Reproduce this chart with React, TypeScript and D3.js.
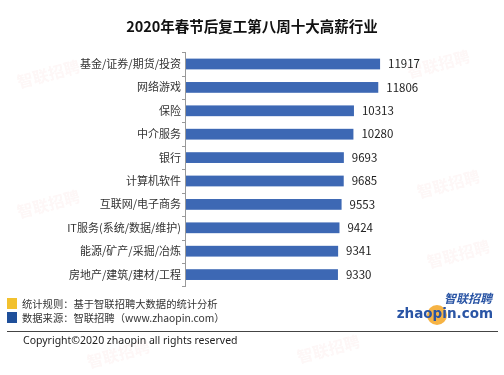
import React from "react";
import * as d3 from "d3";

// top-10 industries, avg monthly salary (yuan)
const industries = [
  "基金/证券/期货/投资",
  "网络游戏",
  "保险",
  "中介服务",
  "银行",
  "计算机软件",
  "互联网/电子商务",
  "IT服务(系统/数据/维护)",
  "能源/矿产/采掘/冶炼",
  "房地产/建筑/建材/工程",
];
const salaries = [11917, 11806, 10313, 10280, 9693, 9685, 9553, 9424, 9341, 9330];

const legendItems = [
  { label: "统计规则：基于智联招聘大数据的统计分析", color: "#f2c12e" },
  { label: "数据来源：智联招聘（www.zhaopin.com）", color: "#1f4f9a" },
];

const W = 504, H = 375;
const CJK = "'Microsoft YaHei', 'Noto Sans CJK SC', sans-serif";
const barColor = "#3d68b4";

export default function App() {
  const y = d3.scaleBand<string>()
    .domain(industries)
    .range([52.3, 286.3])
    .paddingInner(0.54)
    .paddingOuter(0.27);
  const x = d3.scaleLinear().domain([0, 14000]).range([186, 414]);

  const rows = industries.map((name, i) => ({ name, value: salaries[i] }));
  // band boundaries for the small tick marks on the axis
  const tickYs = d3.range(industries.length + 1).map(i => 52.3 + i * y.step());

  // faint watermark positions (kept inside the frame)
  const marks: [number, number][] = [[50, 80], [50, 210], [440, 70], [450, 190], [460, 260], [120, 360], [330, 355]];

  return (
    <svg width={W} height={H} style={{ position: "absolute", left: 0, top: 0, background: "#fff" }}>
      <rect width={W} height={H} fill="#fff" />
      <g fontFamily={CJK} fontSize={16} fontWeight="bold" fill="#d9534f" opacity={0.05}>
        {marks.map(([mx, my], i) => (
          <text key={i} x={mx} y={my} transform={`rotate(-15 ${mx} ${my})`} textAnchor="middle">智联招聘</text>
        ))}
      </g>

      <text x={252} y={32} textAnchor="middle" fontFamily={CJK} fontSize={14.5} fontWeight="bold" fill="#111">
        2020年春节后复工第八周十大高薪行业
      </text>

      <g>
        {rows.map(d => (
          <rect key={d.name} x={x(0)} y={y(d.name)!} width={x(d.value) - x(0)} height={y.bandwidth()} fill={barColor} />
        ))}
      </g>

      <g fontFamily={CJK} fontSize={11} fill="#333">
        {rows.map(d => (
          <text key={d.name} x={181} y={y(d.name)! + y.bandwidth() / 2} dy="0.36em" textAnchor="end">{d.name}</text>
        ))}
        {rows.map(d => (
          <text key={"v" + d.name} x={x(d.value) + 8} y={y(d.name)! + y.bandwidth() / 2} dy="0.36em" fontSize={11.5} fill="#222">{d.value}</text>
        ))}
      </g>

      <g stroke="#999" strokeWidth={1}>
        <line x1={185.5} x2={185.5} y1={52} y2={287} />
        {tickYs.map((t, i) => (
          <line key={i} x1={182} x2={185.5} y1={Math.round(t) + 0.5} y2={Math.round(t) + 0.5} />
        ))}
      </g>

      <g fontFamily={CJK} fontSize={10.3} fill="#333">
        {legendItems.map((it, i) => (
          <g key={it.label}>
            <rect x={7} y={298 + i * 14} width={10} height={11} fill={it.color} />
            <text x={22} y={304 + i * 14} dy="0.36em">{it.label}</text>
          </g>
        ))}
      </g>

      {/* logo */}
      <g>
        <circle cx={437} cy={315} r={10} fill="#f5a623" opacity={0.85} />
        <text x={492} y={303} textAnchor="end" fontFamily={CJK} fontSize={12} fontStyle="italic" fontWeight="bold" fill="#2a55a5">智联招聘</text>
        <text x={493} y={318} textAnchor="end" fontFamily="'DejaVu Sans', sans-serif" fontSize={13.5} fontWeight="bold" fill="#2a55a5">zhaopin.com</text>
      </g>

      <line x1={7} x2={498} y1={331.5} y2={331.5} stroke="#444" strokeWidth={1} />
      <text x={23} y={340} dy="0.36em" fontFamily="'Noto Sans', sans-serif" fontSize={10.5} fill="#222">
        Copyright©2020 zhaopin all rights reserved
      </text>
    </svg>
  );
}
